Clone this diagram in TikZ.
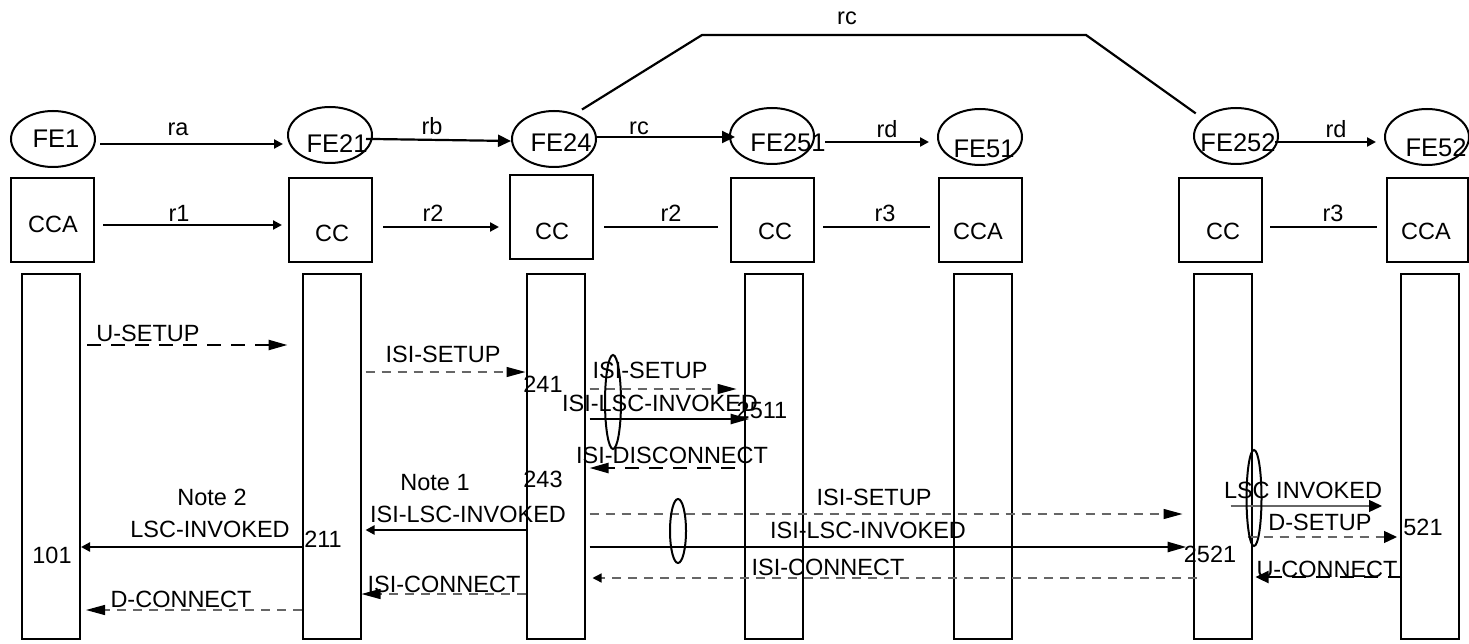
\documentclass[tikz,border=0pt]{standalone}
\usepackage{fontspec}
\setmainfont{Liberation Sans}
\usetikzlibrary{
    arrows.meta,
    shapes.geometric
}
\tikzset {
    fe/.style = {draw, ellipse, line width = 2pt, minimum width = 84pt, minimum height = 56pt, inner sep = 0pt},
    ccbox/.style = {draw, line width = 2pt, minimum width = 83pt, minimum height = 84pt, inner sep = 0pt},
    lifeline/.style = {draw, line width = 2pt, minimum width = 58pt, minimum height = 365pt, inner sep = 0pt},
    group/.style = {draw, ellipse, line width = 2pt, minimum width = 16pt, inner sep = 0pt},
    txt/.style = {anchor = base, inner sep = 0pt, font = \fontsize{23.5}{28}\selectfont},
    fetxt/.style = {anchor = base, inner sep = 0pt, font = \fontsize{25.5}{30}\selectfont},
    %
    link/.style = {line width = 2.2pt, shorten < = 8pt, shorten > = 8pt},
    small tip/.style = {-{Triangle[length = 9pt, width = 9pt, color = black]}},
    mid tip/.style = {-{Triangle[length = 13pt, width = 12pt, color = black]}},
    big tip/.style = {-{Triangle[length = 19pt, width = 10pt, color = black]}},
    solid msg/.style = {line width = 2.6pt},
    thin msg/.style = {line width = 1.3pt, black!60},
    thick dash/.style = {line width = 2.4pt, dash pattern = on 14pt off 10pt},
    thin dash/.style = {line width = 1.3pt, black!60, dash pattern = on 9pt off 7pt}
}
\begin{document}
\begin{tikzpicture}[x = 1pt, y = -1pt]
    \useasboundingbox (0,0) rectangle (1469,644);
    % functional entities
    \node[fe] (fe1) at (53,139) {};
    \node[fe] (fe21) at (330,135) {};
    \node[fe] (fe24) at (554,139) {};
    \node[fe] (fe251) at (772,136) {};
    \node[fe] (fe51) at (980,137) {};
    \node[fe] (fe252) at (1236,136) {};
    \node[fe] (fe52) at (1427,137) {};
    \node[fetxt] (fe1t) at (56,148) {FE1};
    \node[fetxt] (fe21t) at (337,153) {FE21};
    \node[fetxt] (fe24t) at (561,152) {FE24};
    \node[fetxt] (fe251t) at (788,152) {FE251};
    \node[fetxt] (fe51t) at (984,158) {FE51};
    \node[fetxt] (fe252t) at (1238,152) {FE252};
    \node[fetxt] (fe52t) at (1436,157) {FE52};
    % call control boxes
    \node[ccbox] (b1) at (52.5,220) {};
    \node[ccbox] (b21) at (330.5,220) {};
    \node[ccbox] (b24) at (551.5,217) {};
    \node[ccbox] (b251) at (772.5,220) {};
    \node[ccbox] (b51) at (980.5,220) {};
    \node[ccbox] (b252) at (1220.5,220) {};
    \node[ccbox, minimum width = 81pt] (b52) at (1427.5,220) {};
    \node[txt] (b1t) at (53,233) {CCA};
    \node[txt] (b21t) at (332,242) {CC};
    \node[txt] (b24t) at (552,240) {CC};
    \node[txt] (b251t) at (775,240) {CC};
    \node[txt] (b51t) at (978,240) {CCA};
    \node[txt] (b252t) at (1223,240) {CC};
    \node[txt] (b52t) at (1426,240) {CCA};
    % relationships
    \draw[link, small tip, shorten < = 4pt, shorten > = 4pt] (fe1.east |- 0,144) -- (fe21.west |- 0,144);
    \draw[link, mid tip, shorten < = -7pt, shorten > = 0pt] (fe21.east |- 0,139) -- (fe24.west |- 0,141);
    \draw[link, mid tip, shorten < = 0pt, shorten > = -6pt] (fe24.east |- 0,137) -- (fe251.west |- 0,137);
    \draw[link, small tip, shorten < = 10pt] (fe251.east |- 0,142) -- (fe51.west |- 0,142);
    \draw[link, small tip, shorten < = -4pt] (fe252.east |- 0,142) -- (fe52.west |- 0,142);
    \draw[link] (fe24.50) -- (702,35) -- (1086,35) -- (fe252.152);
    \node[txt] (rat) at (178,136) {ra};
    \node[txt] (rbt) at (432,135) {rb};
    \node[txt] (rct) at (639,135) {rc};
    \node[txt] (rdt) at (887,138) {rd};
    \node[txt] (rd2t) at (1336,138) {rd};
    \node[txt] (rc2t) at (847,25) {rc};
    \draw[link, small tip, shorten > = 6pt] (b1.east |- 0,225) -- (b21.west |- 0,225);
    \draw[link, small tip, shorten < = 10pt, shorten > = 10pt] (b21.east |- 0,227) -- (b24.west |- 0,227);
    \draw[link, shorten < = 10pt, shorten > = 12pt] (b24.east |- 0,227) -- (b251.west |- 0,227);
    \draw[link] (b251.east |- 0,227) -- (b51.west |- 0,227);
    \draw[link, shorten < = 7pt, shorten > = 9pt] (b252.east |- 0,227) -- (b52.west |- 0,227);
    \node[txt] (r1t) at (179,222) {r1};
    \node[txt] (r2t) at (433,222) {r2};
    \node[txt] (r2bt) at (671,222) {r2};
    \node[txt] (r3t) at (885,222) {r3};
    \node[txt] (r3bt) at (1333,222) {r3};
    % life lines
    \node[lifeline] (l1) at (51,456.5) {};
    \node[lifeline] (l21) at (331.5,456.5) {};
    \node[lifeline] (l24) at (555.5,456.5) {};
    \node[lifeline] (l251) at (773.5,456.5) {};
    \node[lifeline] (l51) at (982.5,456.5) {};
    \node[lifeline] (l252) at (1222.5,456.5) {};
    \node[lifeline] (l52) at (1430,456.5) {};
    % information flows
    \draw[thick dash, big tip, shorten < = 6pt, shorten > = 14pt] (l1.east |- 0,345) -- (l21.west |- 0,345);
    \draw[thin dash, big tip, shorten < = 4pt] (l21.east |- 0,372) -- (l24.west |- 0,372);
    \draw[thin dash, big tip, shorten < = 4pt, shorten > = 7pt] (l24.east |- 0,389) -- (l251.west |- 0,389);
    \draw[solid msg, big tip, shorten < = 4pt, shorten > = -6pt] (l24.east |- 0,419) -- (l251.west |- 0,419);
    \draw[thick dash, big tip, shorten < = 9pt, shorten > = 4pt] (l251.west |- 0,468) -- (l24.east |- 0,468);
    \draw[solid msg, small tip, shorten > = 4pt] (l24.west |- 0,530) -- (l21.east |- 0,530);
    \draw[thin dash, big tip] (l24.west |- 0,594) -- (l21.east |- 0,594);
    \draw[solid msg, small tip] (l21.west |- 0,547) -- (l1.east |- 0,547);
    \draw[thin dash, big tip, shorten > = 5pt] (l21.west |- 0,610) -- (l1.east |- 0,610);
    \draw[thin dash, big tip, shorten < = 4pt, shorten > = 10pt] (l24.east |- 0,514) -- (l252.west |- 0,514);
    \draw[solid msg, big tip, shorten < = 4pt, shorten > = 6pt] (l24.east |- 0,547) -- (l252.west |- 0,547);
    \draw[thin dash, small tip, shorten < = -4pt, shorten > = 7pt] (l252.west |- 0,578) -- (l24.east |- 0,578);
    \draw[thin msg, mid tip, shorten < = -22pt, shorten > = 18pt] (l252.east |- 0,506) -- (l52.west |- 0,506);
    \draw[thin dash, mid tip, shorten < = -5pt, shorten > = 3pt] (l252.east |- 0,537) -- (l52.west |- 0,537);
    \draw[thick dash, mid tip, shorten < = -2pt, shorten > = 3pt] (l52.west |- 0,577) -- (l252.east |- 0,577);
    % flows sent together
    \node[group, minimum height = 94pt] (g1) at (613,402) {};
    \node[group, minimum height = 64pt] (g2) at (678,531) {};
    \node[group, minimum width = 15pt, minimum height = 96pt] (g3) at (1254,498) {};
    % flow labels
    \node[txt] (usetup) at (148,341) {U-SETUP};
    \node[txt] (isisetupa) at (443,362) {ISI-SETUP};
    \node[txt] (n241) at (543,392) {241};
    \node[txt] (isisetupb) at (650,378) {ISI-SETUP};
    \node[txt] (isilscb) at (660,411) {ISI-LSC-INVOKED};
    \node[txt] (n2511) at (762,418) {2511};
    \node[txt] (isidisc) at (672,463) {ISI-DISCONNECT};
    \node[txt] (n243) at (543,487) {243};
    \node[txt] (note1) at (435,490) {Note 1};
    \node[txt] (isilsca) at (468,522) {ISI-LSC-INVOKED};
    \node[txt] (isiconna) at (444,592) {ISI-CONNECT};
    \node[txt] (note2) at (212,505) {Note 2};
    \node[txt] (lscinv) at (210,537) {LSC-INVOKED};
    \node[txt] (n101) at (52,563) {101};
    \node[txt] (n211) at (323,547) {211};
    \node[txt] (dconn) at (181,607) {D-CONNECT};
    \node[txt] (isisetupc) at (874,505) {ISI-SETUP};
    \node[txt] (isilscc) at (868,538) {ISI-LSC-INVOKED};
    \node[txt] (isiconnb) at (828,575) {ISI-CONNECT};
    \node[txt] (n2521) at (1210,562) {2521};
    \node[txt] (lscinvb) at (1303,498) {LSC INVOKED};
    \node[txt] (dsetup) at (1320,530) {D-SETUP};
    \node[txt] (n521) at (1423,535) {521};
    \node[txt] (uconn) at (1327,577) {U-CONNECT};
\end{tikzpicture}
\end{document}
